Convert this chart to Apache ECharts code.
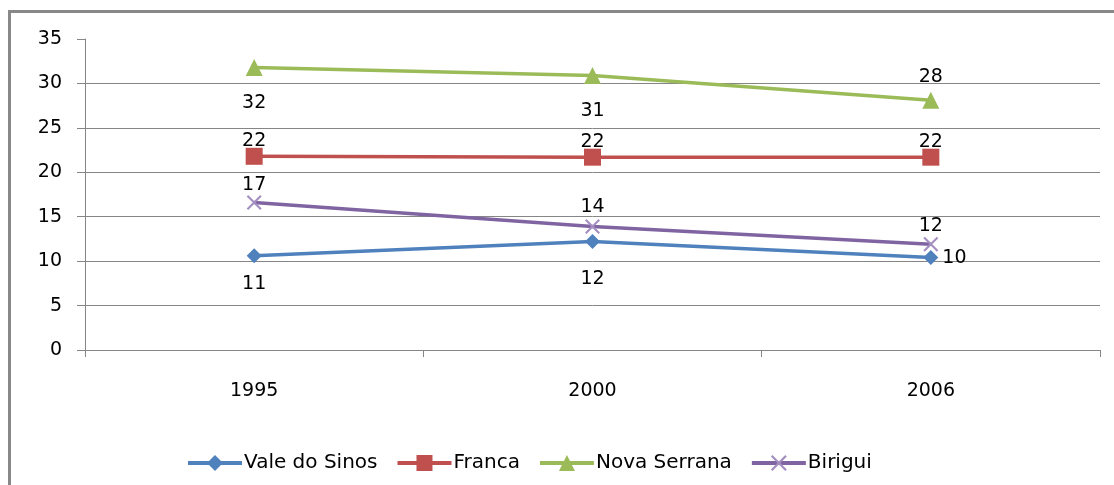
<!DOCTYPE html>
<html>
<head>
<meta charset="utf-8">
<script src="https://cdn.jsdelivr.net/npm/echarts@6/dist/echarts.min.js"></script>
<style>html,body{margin:0;padding:0;background:#fff;overflow:hidden;}#c{width:1114px;height:485px;}</style>
</head>
<body>
<div id="c"></div>
<script>
const years = ['1995', '2000', '2006'];
const valeDoSinos = [10.6, 12.2, 10.4];
const franca = [21.8, 21.7, 21.7];
const novaSerrana = [31.8, 30.9, 28.1];
const birigui = [16.6, 13.9, 11.9];
const seriesNames = ['Vale do Sinos', 'Franca', 'Nova Serrana', 'Birigui'];

const FONT = '"DejaVu Sans", sans-serif';
const xPath = 'path://M0,1L1,0L10,9L9,10Z M9,0L10,1L1,10L0,9Z';

function items(vals, labelCfg) {
  return vals.map((v, i) => ({ value: v, label: labelCfg[i] }));
}
const lab = (position, distance) => ({ position, distance });

const chart = echarts.init(document.getElementById('c'));
const baseLabel = {
  show: true, color: '#000', fontSize: 19, fontFamily: FONT,
  formatter: p => Math.round(p.value)
};
chart.setOption({
  animation: false,
  backgroundColor: '#fff',
  graphic: [
    { type: 'rect', shape: { x: 8, y: 10, width: 1106, height: 3 }, style: { fill: '#888', stroke: null }, silent: true },
    { type: 'rect', shape: { x: 8, y: 10, width: 3, height: 475 }, style: { fill: '#888', stroke: null }, silent: true }
  ],
  grid: { left: 85, right: 14, top: 39, bottom: 135 },
  xAxis: {
    type: 'category', data: years, boundaryGap: true,
    axisLine: { lineStyle: { color: '#868686', width: 1 } },
    axisTick: { show: true, length: 7, lineStyle: { color: '#868686' } },
    axisLabel: { color: '#000', fontSize: 19, fontFamily: FONT, margin: 32 }
  },
  yAxis: {
    type: 'value', min: 0, max: 35, interval: 5,
    axisLine: { show: true, lineStyle: { color: '#868686' } },
    axisTick: { show: true, length: 8, lineStyle: { color: '#868686' } },
    axisLabel: { color: '#000', fontSize: 19, fontFamily: FONT, margin: 23 },
    splitLine: { show: true, lineStyle: { color: ['#868686','#868686','#868686','#868686','#868686','#868686','#868686','rgba(0,0,0,0)'], width: 1 } }
  },
  legend: {
    top: 448, left: 181, itemWidth: 54, itemHeight: 20, itemGap: 18,
    lineStyle: { width: 4 },
    textStyle: { color: '#000', fontSize: 20, fontFamily: FONT, padding: [0,0,0,-3] },
    data: seriesNames
  },
  series: [
    {
      name: seriesNames[0], type: 'line', data: items(valeDoSinos, [lab('bottom', 11), lab('bottom', 20), lab('right', 4)]),
      symbol: 'diamond', symbolSize: 15,
      lineStyle: { color: '#4F81BD', width: 3.5 }, itemStyle: { color: '#4F81BD' },
      label: baseLabel
    },
    {
      name: seriesNames[1], type: 'line', data: items(franca, [lab('top', -3), lab('top', -3), lab('top', -3)]),
      symbol: 'rect', symbolSize: 17,
      lineStyle: { color: '#C0504D', width: 3.5 }, itemStyle: { color: '#C0504D' },
      label: baseLabel
    },
    {
      name: seriesNames[2], type: 'line', data: items(novaSerrana, [lab('bottom', 18), lab('bottom', 18), lab('top', 5)]),
      symbol: 'triangle', symbolSize: 17,
      lineStyle: { color: '#9BBB59', width: 3.5 }, itemStyle: { color: '#9BBB59' },
      label: baseLabel
    },
    {
      name: seriesNames[3], type: 'line', data: items(birigui, [lab('top', 0), lab('top', 2), lab('top', 1)]),
      symbol: xPath, symbolSize: 15,
      lineStyle: { color: '#8064A2', width: 3.5 }, itemStyle: { color: '#A48FC0' },
      label: baseLabel
    }
  ]
});
</script>
</body>
</html>
